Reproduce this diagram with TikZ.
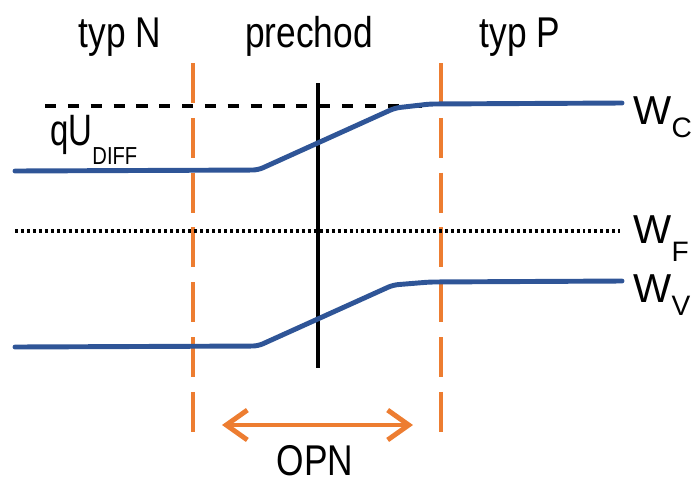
\documentclass[tikz,border=0pt]{standalone}
\usepackage{fontspec}
\setmainfont{Liberation Sans}[FakeStretch=0.82]
\newfontfamily\qufont{Liberation Sans}[FakeStretch=0.75]
\newfontfamily\wfont{Liberation Sans}
\usetikzlibrary{arrows.meta}
\definecolor{pnblue}{RGB}{47,85,151}
\definecolor{pnorange}{RGB}{237,125,49}
\newcommand{\wsub}[3]{#1\raisebox{-#3}{\fontsize{16}{16}\selectfont #2}}

\begin{document}
\begin{tikzpicture}[line cap=round,line join=round,x=0.02cm,y=-0.02cm,
    band/.style={line width=2.8pt,color=pnblue,rounded corners=3pt},
    border/.style={line width=2.3pt,color=pnorange,line cap=butt,dash pattern=on 22.7pt off 8.5pt},
    level/.style={line width=1.9pt,line cap=butt},
    lbl/.style={anchor=base,inner sep=0pt,font=\fontsize{24.5}{24.5}\selectfont},
    wlbl/.style={anchor=base west,inner sep=0pt,font=\wfont\fontsize{23}{23}\selectfont}]
	\useasboundingbox (0,0) rectangle (692,484);
	\node[lbl] (typn) at (120,47) {typ N};
	\node[lbl] (prechod) at (309,47) {prechod};
	\node[lbl] (typp) at (520,47) {typ P};
	\coordinate (bn top) at (193,63);
	\coordinate (bn bot) at (193,440);
	\coordinate (bp top) at (441,63);
	\coordinate (bp bot) at (441,440);
	\draw[border] (bn top) -- (bn bot);
	\draw[border] (bp top) -- (bp bot);
	\draw[level,dash pattern=on 6.4pt off 6.6pt] (45,106) -- (430,106);
	\draw[level,dash pattern=on 1.7pt off 1.7pt] (15,231) -- (620,231);
	\draw[level] (318,83) -- (318,368);
	\draw[band] (15,171) -- (258,170) -- (395,108) -- (430,104) -- (622,103);
	\draw[band] (15,347) -- (258,346) -- (393,285) -- (430,282) -- (622,281);
	\node[anchor=base west,inner sep=0pt,font=\qufont\fontsize{25}{25}\selectfont] (qu) at (50,145)
		{qU\raisebox{-11.3pt}{\normalfont\fontsize{14}{14}\selectfont DIFF}};
	\node[wlbl] (wc) at (633,124) {\wsub{W}{C}{7.4pt}};
	\node[wlbl] (wf) at (633,243) {\wsub{W}{F}{10.8pt}};
	\node[wlbl] (wv) at (633,302) {\wsub{W}{V}{7.4pt}};
	\coordinate (opn l) at (222,425);
	\coordinate (opn r) at (413,425);
	\draw[line width=2.8pt,color=pnorange,{Straight Barb[length=12pt,width=17pt]}-{Straight Barb[length=12pt,width=17pt]}] (opn l) -- (opn r);
	\node[lbl] (opn) at (315,475) {OPN};
\end{tikzpicture}
\end{document}
